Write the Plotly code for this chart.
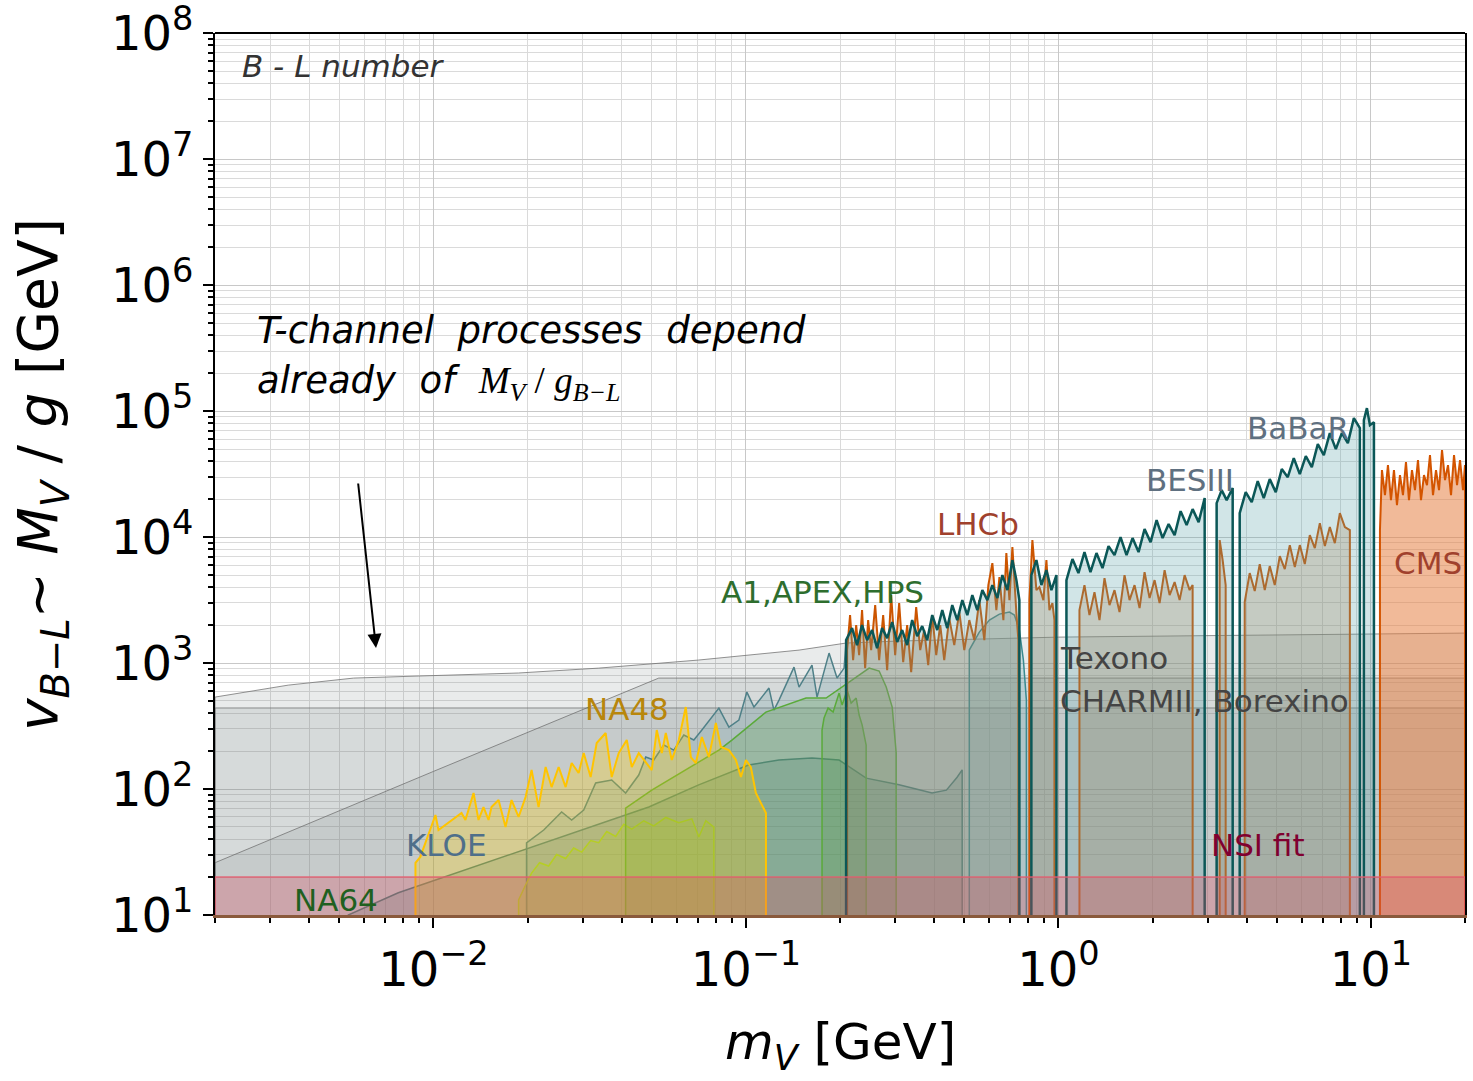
import plotly.graph_objects as go

FLOOR = 1.0  # polygon floor, below the visible y range

# ---------------- data (m_V [GeV], v_{B-L} [GeV]) ----------------
texono_m = [0.002, 20.0]
texono_v = [440, 440]

charm_m = [0.002, 0.00343, 0.00555, 0.00895, 0.0187, 0.0338, 0.0706, 0.148, 0.209, 0.309, 1.0, 20.0]
charm_v = [537, 668, 760, 789, 834, 912, 1057, 1268, 1442, 1496, 1607, 1730]

borex_m = [0.002, 0.01, 0.0489, 0.0526, 20.0]
borex_v = [26, 138, 706, 760, 760]

na64_m = [0.00534, 0.00772, 0.0489, 0.0706, 0.102, 0.1276, 0.1627, 0.1987, 0.2425, 0.309, 0.394, 0.438, 0.474, 0.492]
na64_v = [10, 15, 72, 108, 155, 170, 176, 170, 122, 108, 93, 98, 124, 142]

kloe_m = [0.01986, 0.02254, 0.02572, 0.02769, 0.03026, 0.03305, 0.0372, 0.04121, 0.0454, 0.0478, 0.0507,
          0.0546, 0.05876, 0.06327, 0.06812, 0.07228, 0.08193, 0.08821, 0.09497, 0.1007, 0.1061, 0.1185,
          0.1229, 0.1276, 0.1425, 0.1479, 0.1627, 0.1689, 0.1845, 0.1957, 0.2061, 0.2093]
kloe_v = [37.3, 47.3, 65.7, 56.8, 68.1, 111.6, 117.9, 93.0, 129.2, 179.5, 169.9,
          223.4, 203.9, 268.3, 244.9, 294.0, 439.5, 310.6, 352.9, 588.6, 447.6, 633.3,
          423.6, 508.5, 929.5, 645.0, 964.0, 537.0, 1200, 760, 912, 1522]

hps_m = [0.01873, 0.01972, 0.02061, 0.02186, 0.02337, 0.02479, 0.02649, 0.0281, 0.02981, 0.03185, 0.0338,
         0.03585, 0.03831, 0.04064, 0.04312, 0.04711, 0.0507, 0.05541, 0.06098, 0.06713, 0.07069, 0.07442, 0.07896]
hps_v = [13.15, 17.3, 21.5, 26.0, 24.5, 30.2, 28.1, 34.0, 31.6, 39.0, 37.5,
         46.0, 42.0, 52.5, 48.0, 56.0, 51.0, 59.5, 54.0, 58.0, 41.6, 56.0, 49.9]

apex_m = [0.04121, 0.04996, 0.06421, 0.08193, 0.09018, 0.1159, 0.1557, 0.1805, 0.2138, 0.2479, 0.2669, 0.2811, 0.2938, 0.3026]
apex_v = [70.6, 98.2, 141.5, 203.9, 244.9, 408.4, 527.6, 527.6, 706.5, 912, 864, 645, 447.6, 193.1]

a1_m = [0.1752, 0.1778, 0.1832, 0.1901, 0.1987, 0.2032, 0.2108, 0.2171, 0.2253, 0.2303, 0.2355, 0.2407, 0.2425]
a1_v = [294, 366, 439.5, 408.4, 578, 464, 611, 481, 527.6, 386.7, 322, 244.9, 223.4]

na48_m = [0.00876, 0.00908, 0.01015, 0.01038, 0.01142, 0.0123, 0.01266, 0.01344, 0.01394, 0.01446, 0.01501,
          0.01534, 0.01616, 0.01701, 0.01778, 0.01873, 0.01972, 0.02061, 0.0217, 0.02286, 0.02389, 0.02516,
          0.02649, 0.02769, 0.02915, 0.03026, 0.03185, 0.0333, 0.03558, 0.0372, 0.03917, 0.04156, 0.04312,
          0.0454, 0.04996, 0.05184, 0.0538, 0.05541, 0.05791, 0.06098, 0.06421, 0.06663, 0.06913, 0.07228,
          0.0761, 0.08014, 0.08316, 0.08821, 0.09289, 0.09638, 0.1, 0.1037, 0.1076, 0.1117, 0.1159]
na48_v = [25.9, 28.9, 62.2, 47.3, 56.8, 64.5, 56.8, 93.0, 56.8, 71.9, 56.8,
          71.9, 81.8, 49.9, 81.8, 60.0, 86.4, 141.5, 71.9, 149.5, 103.7, 149.5,
          103.7, 160.8, 134.0, 193.1, 124.6, 231.8, 278.3, 124.6, 193.1, 244.9, 149.5,
          193.1, 141.5, 294.0, 193.1, 278.3, 169.9, 244.9, 447.6, 179.5, 160.8, 258.6,
          179.5, 334.1, 215.4, 203.9, 169.9, 124.6, 169.9, 149.5, 93.0, 77.4, 64.5]

kl2_m = [0.5185, 0.5583, 0.6014, 0.6474, 0.6969, 0.7228, 0.7499, 0.7725, 0.7897]
kl2_v = [1269, 1762, 2194, 2448, 2540, 2404, 1828, 1056, 508.5]

lhcb_segments_m = [
    [0.2108, 0.2154, 0.2203, 0.2253, 0.2303, 0.2353, 0.2407, 0.2461, 0.2516, 0.2592, 0.2669, 0.2749, 0.2831,
     0.2916, 0.3003, 0.3093, 0.3186, 0.3281, 0.3379, 0.3506, 0.3612, 0.372, 0.3831, 0.3946, 0.4064, 0.4186,
     0.4311, 0.4473, 0.4642, 0.4817, 0.4998, 0.5185, 0.538, 0.5583, 0.5793, 0.5967, 0.6146, 0.633, 0.6474,
     0.6666, 0.6813, 0.6969, 0.7124, 0.7337, 0.7444],
    [0.8074, 0.8254, 0.8501, 0.8692, 0.8953, 0.9153, 0.9358, 0.9567, 0.9709],
    [1.1675, 1.2115, 1.257, 1.3043, 1.3533, 1.4042, 1.4569, 1.5118, 1.5686, 1.6276, 1.6888, 1.7523, 1.8182,
     1.8865, 1.9575, 2.031, 2.1074, 2.1866, 2.2688, 2.354, 2.4424, 2.5343, 2.6295, 2.6884],
    [3.2811, 3.3537, 3.429],
    [3.9451, 4.0937, 4.2478, 4.4077, 4.5737, 4.7447, 4.9232, 5.1087, 5.301, 5.5006, 5.7077, 5.9204, 6.1428,
     6.3741, 6.6141, 6.8631, 7.1215, 7.3874, 7.665, 7.9536, 8.2531, 8.5627],
]
lhcb_segments_v = [
    [1269, 2404, 1056, 2002, 1157, 2634, 912, 2194, 1269, 2886, 1056, 2404, 879.8,
     3465, 1157, 2994, 1018, 2002, 848.3, 2783, 1269, 1828, 964, 2404, 1157, 2002,
     1056, 2276, 1389, 2540, 1269, 2194, 1522, 3162, 1522, 4159, 6218, 2634, 4814,
     2194, 7466, 3162, 8330, 2493, 1522],
    [3162, 9467, 3796, 4010, 3162, 6570, 2634, 2994, 2194],
    [2634, 4159, 2404, 3660, 2194, 4727, 2886, 3796, 2540, 4993, 3162, 4159, 2733,
     5275, 3280, 4557, 2994, 5471, 3465, 4394, 3162, 4993, 3796, 4159],
    [9467, 6570, 4159],
    [3049, 5179, 3727, 6105, 3796, 5887, 4159, 7067, 5572, 8640, 5781, 8640, 6105,
     10372, 8180, 12915, 8484, 12007, 8963, 15504, 12007, 11364],
]

babar_segments_m = [
    [0.2092, 0.2186, 0.2268, 0.2353, 0.2442, 0.2534, 0.2629, 0.2728, 0.2831, 0.2937, 0.3048, 0.3162, 0.3281,
     0.3404, 0.3533, 0.3665, 0.3803, 0.3946, 0.4095, 0.4249, 0.4408, 0.4574, 0.4746, 0.4925, 0.511, 0.5302,
     0.5502, 0.5708, 0.5923, 0.6146, 0.6377, 0.6617, 0.6866, 0.7124, 0.7337, 0.7499],
    [0.8192, 0.8501, 0.882, 0.9153, 0.9496, 0.9854],
    [1.0608, 1.1088, 1.159, 1.2115, 1.2663, 1.3236, 1.3837, 1.4463, 1.5118, 1.5803, 1.6518, 1.7266, 1.8048,
     1.8865, 1.9719, 2.0612, 2.1544, 2.252, 2.354, 2.4605, 2.5719, 2.6884, 2.8101, 2.9374],
    [3.2083, 3.329, 3.4545, 3.6109],
    [3.8024, 3.9746, 4.1545, 4.3426, 4.5393, 4.7447, 4.9596, 5.184, 5.4187, 5.664, 5.9204, 6.1884, 6.4686,
     6.7614, 7.0675, 7.3874, 7.7218, 8.0714, 8.4368, 8.8187, 9.2179],
    [9.4936, 9.7082, 9.9262, 10.224],
]
babar_segments_v = [
    [1522, 1896, 1389, 2002, 1522, 1828, 1315, 1896, 1579, 2116, 1468, 1828, 1389,
     2194, 1638, 1966, 1522, 2404, 1828, 2634, 1896, 2886, 2194, 3162, 2404, 3465,
     2634, 3796, 3162, 4159, 3280, 4993, 3796, 6570, 4557, 3162],
    [4993, 6570, 4159, 5471, 3796, 4993],
    [4557, 6690, 5179, 7603, 5275, 7466, 5676, 8484, 7197, 10000, 7197, 9819, 7603,
     11572, 9128, 13640, 9819, 12685, 10372, 16082, 12455, 16681, 13151, 20393],
    [18614, 23605, 19660, 24484],
    [15504, 22758, 18958, 27826, 20393, 28860, 22758, 34650, 29934, 42356, 31623, 43937, 35938,
     54707, 44749, 66901, 49929, 66901, 55718, 87992, 73289],
    [84834, 105632, 77426, 81802],
]

cms_m = [10.687, 10.846, 11.089, 11.337, 11.591, 11.85, 12.115, 12.386, 12.663, 12.946, 13.236, 13.532,
         13.835, 14.144, 14.461, 14.784, 15.115, 15.453, 15.799, 16.152, 16.514, 16.883, 17.261, 17.647,
         18.042, 18.446, 18.858, 19.28, 19.712, 20.0]
cms_v = [11364, 34020, 21544, 37276, 19660, 34020, 17946, 31050, 21544, 39376, 19660, 34020,
         23605, 40842, 19660, 31050, 25857, 44749, 21544, 34020, 23605, 49031, 28338, 37276,
         21544, 44749, 25857, 40842, 23605, 37276]

nsi_m = [0.002, 20.0]
nsi_v = [20, 20]

x_ticks = [0.01, 0.1, 1, 10]
x_ticktext = ["10<sup>\u22122</sup>", "10<sup>\u22121</sup>", "10<sup>0</sup>", "10<sup>1</sup>"]
y_ticks = [1e1, 1e2, 1e3, 1e4, 1e5, 1e6, 1e7, 1e8]
y_ticktext = ["10<sup>%d</sup>" % k for k in range(1, 9)]

# ---------------- figure ----------------
fig = go.Figure()


def region(m, v, line_color, fill_color, width=1.5):
    assert len(m) == len(v)
    x = [m[0]] + list(m) + [m[-1]]
    y = [FLOOR] + list(v) + [FLOOR]
    fig.add_trace(go.Scatter(x=x, y=y, mode="lines", fill="toself", fillcolor=fill_color,
                             line=dict(color=line_color, width=width), hoverinfo="skip",
                             showlegend=False))


gray_fill = "rgba(110,120,120,0.15)"
gray_line = "rgba(110,110,110,0.75)"
region(texono_m, texono_v, gray_line, gray_fill, 1)
region(charm_m, charm_v, gray_line, gray_fill, 1)
region(borex_m, borex_v, gray_line, gray_fill, 1)

region(na64_m, na64_v, "#4d7b78", "rgba(60,115,105,0.22)", 1.5)
region(kloe_m, kloe_v, "#4f8088", "rgba(95,150,160,0.22)", 1.5)
region(hps_m, hps_v, "#9acd32", "rgba(154,205,50,0.25)", 1.5)
region(apex_m, apex_v, "#5aaa3a", "rgba(80,160,60,0.22)", 1.5)
region(a1_m, a1_v, "#5aaa3a", "rgba(80,160,60,0.22)", 1.5)
region(na48_m, na48_v, "#ffc400", "rgba(255,210,0,0.28)", 2)
region(kl2_m, kl2_v, "#3a8a90", "rgba(120,180,190,0.28)", 1.5)

for m, v in zip(lhcb_segments_m, lhcb_segments_v):
    region(m, v, "#cc5500", "rgba(190,110,50,0.25)", 2)
for m, v in zip(babar_segments_m, babar_segments_v):
    region(m, v, "#0b5757", "rgba(90,160,170,0.28)", 2.5)

region(cms_m, cms_v, "#d35400", "rgba(230,130,70,0.55)", 2)
region(nsi_m, nsi_v, "rgba(230,90,110,0.85)", "rgba(220,80,100,0.3)", 1.5)

# ---------------- layout ----------------
L, R, T, B = 215, 8, 33, 166
W, H = 1473, 1081
PW, PH = W - L - R, H - T - B


def px(xp):
    return (xp - L) / PW


def py(yp):
    return (T + PH - yp) / PH


minor_x = [k * 10 ** d for d in range(-3, 2) for k in range(2, 10)]
minor_y = [k * 10 ** d for d in range(1, 8) for k in range(2, 10)]

fig.update_layout(
    width=W, height=H, margin=dict(l=L, r=R, t=T, b=B, autoexpand=False),
    paper_bgcolor="white", plot_bgcolor="white",
    font=dict(family="DejaVu Sans", color="black"),
    xaxis=dict(type="log", range=[-2.69897, 1.30103], tickmode="array", tickvals=x_ticks,
               ticktext=x_ticktext, tickfont=dict(size=48), ticks="outside", ticklen=10,
               tickwidth=2, tickcolor="black", showline=True, linecolor="#8a5a3c", linewidth=3,
               showgrid=True, gridcolor="#c8c8c8", gridwidth=1, zeroline=False,
               ticklabeloverflow="allow", automargin=False,
               minor=dict(tickmode="array", tickvals=minor_x, ticks="outside", ticklen=5, tickwidth=1.5,
                          tickcolor="black", showgrid=True, gridcolor="#dadada", gridwidth=1)),
    yaxis=dict(type="log", range=[1, 8.002], tickmode="array", tickvals=y_ticks, ticktext=y_ticktext,
               tickfont=dict(size=48), ticks="outside", ticklen=10, tickwidth=2, tickcolor="black",
               showline=True, linecolor="black", linewidth=2, mirror=True,
               showgrid=True, gridcolor="#c8c8c8", gridwidth=1, zeroline=False,
               ticklabeloverflow="allow", automargin=False,
               minor=dict(tickmode="array", tickvals=minor_y, ticks="outside", ticklen=5, tickwidth=1.5,
                          tickcolor="black", showgrid=True, gridcolor="#dadada", gridwidth=1)),
)

fig.add_shape(type="line", xref="paper", yref="paper", x0=0, x1=1, y0=1, y1=1,
              line=dict(color="black", width=2))

ann = []


def label(text, xp, yp, color, size=31, xanchor="center"):
    ann.append(dict(text=text, x=px(xp), y=py(yp), xref="paper", yref="paper", showarrow=False,
                    xanchor=xanchor, yanchor="middle", font=dict(size=size, color=color)))


label("NA48", 627, 709, "#b8860b")
label("A1,APEX,HPS", 822, 592, "#2e6e2e")
label("LHCb", 978, 524, "#a0412d")
label("BESIII", 1190, 480, "#5f7080")
label("BaBaR", 1298, 428, "#5f7080")
label("CMS", 1428, 563, "#a0412d")
label("Texono", 1058, 658, "#444444", xanchor="left")
label("CHARMII, Borexino", 1058, 701, "#444444", xanchor="left")
label("NSI fit", 1258, 845, "#800030")
label("KLOE", 446, 845, "#4f6f8a")
label("NA64", 336, 900, "#1f6020")
label("<i>B - L number</i>", 240, 66, "#333333", size=31, xanchor="left")
label("<i>T-channel  processes  depend</i>", 255, 330, "black", size=37, xanchor="left")
label("<i>already  of  </i><span style='font-family:Liberation Serif'><i>M</i><sub><i>V</i></sub>"
      " / <i>g</i><sub><i>B\u2212L</i></sub></span>", 255, 383, "black", size=37, xanchor="left")

# axis titles
ann.append(dict(text="<i>m<sub>V</sub></i> [GeV]", x=px(840), y=py(1045), xref="paper", yref="paper",
                showarrow=False, xanchor="center", yanchor="middle", font=dict(size=50)))
ann.append(dict(text="<i>v<sub>B\u2212L</sub></i>\u223c <i>M<sub>V</sub></i> / <i>g</i> [GeV]",
                x=px(42), y=py(475), xref="paper", yref="paper", showarrow=False, textangle=-90,
                xanchor="center", yanchor="middle", font=dict(size=55)))

# arrow
ann.append(dict(text="", x=px(376), y=py(648), xref="paper", yref="paper", showarrow=True,
                ax=-18, ay=-166, arrowhead=2, arrowsize=1.4, arrowwidth=2, arrowcolor="black"))

fig.update_layout(annotations=ann)
fig.write_html("out.html")
